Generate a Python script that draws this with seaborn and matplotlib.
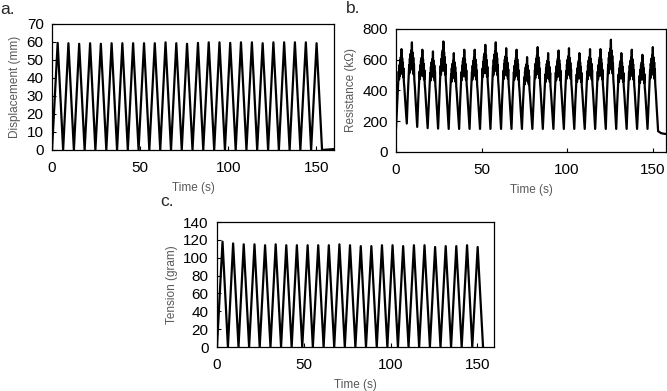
import numpy as np
import pandas as pd
import matplotlib
matplotlib.use('Agg')
import matplotlib.pyplot as plt
import seaborn as sns

# times of peaks and troughs (s)
peak_t = [3.2, 9.3, 15.4, 21.6, 27.7, 33.8, 39.9, 46.0, 52.2, 58.3, 64.4, 70.5, 76.6,
          82.8, 88.9, 95.0, 101.1, 107.2, 113.4, 119.5, 125.6, 131.7, 137.8, 144.0, 150.1]
trough_t = [6.3, 12.4, 18.5, 24.6, 30.8, 36.9, 43.0, 49.1, 55.2, 61.4, 67.5, 73.6, 79.7,
            85.8, 92.0, 98.1, 104.2, 110.3, 116.4, 122.6, 128.7, 134.8, 140.9, 147.0, 153.2]

# a. displacement peaks (mm)
disp_peak = [59.5, 59.3, 59.0, 59.3, 59.0, 59.3, 59.3, 59.3, 59.3, 59.3, 59.8, 59.3, 59.0,
             59.5, 59.8, 59.8, 59.5, 59.8, 59.8, 59.3, 59.8, 59.8, 59.8, 59.8, 59.3]
disp_tail_t = [160]
disp_tail = [0.5]

# b. resistance (kOhm)
res_start = 150
res_peak = [669, 713, 665, 654, 719, 643, 665, 665, 697, 713, 675, 665, 617,
            682, 643, 660, 675, 643, 669, 669, 730, 643, 665, 632, 682]
res_trough = [185, 163, 155, 152, 150, 150, 150, 150, 150, 150, 150, 150, 150,
              150, 150, 150, 150, 150, 150, 150, 150, 150, 150, 150, 135]
# jagged shape around each peak: offset from peak (s), level between trough and peak
res_off = [-2.4, -1.9, -1.6, -1.4, -1.2, -1.0, -0.8, -0.6, -0.4, -0.2, 0.0,
           0.2, 0.4, 0.6, 0.8, 1.0, 1.2, 1.4, 1.7, 2.2]
res_lev = [0.35, 0.58, 0.72, 0.62, 0.80, 0.66, 0.86, 0.70, 0.90, 0.74, 1.0,
           0.72, 0.88, 0.66, 0.82, 0.62, 0.74, 0.56, 0.48, 0.30]
res_tail_t = [155, 157, 160]
res_tail = [122, 118, 115]

# c. tension (gram)
ten_peak = [118, 116, 115, 115, 114, 115, 114, 114, 114, 114, 114, 115, 114,
            113, 113, 114, 114, 113, 114, 114, 112, 113, 113, 114, 112]

# build series
a_t, a_v = [0], [0]
for tp, pk, tt in zip(peak_t, disp_peak, trough_t):
    a_t += [tp, tt]
    a_v += [pk, 0]
a_t += disp_tail_t
a_v += disp_tail
df_a = pd.DataFrame({'t': a_t, 'v': a_v})

b_t, b_v = [0], [res_start]
for i, (tp, pk) in enumerate(zip(peak_t, res_peak)):
    lo_l = res_start if i == 0 else res_trough[i - 1]
    lo_r = res_trough[i]
    for off, lev in zip(res_off, res_lev):
        lo = lo_l if off < 0 else lo_r
        b_t.append(tp + off)
        b_v.append(lo + lev * (pk - lo))
    b_t.append(trough_t[i])
    b_v.append(lo_r)
b_t += res_tail_t
b_v += res_tail
df_b = pd.DataFrame({'t': b_t, 'v': b_v})

c_t, c_v = [0], [0]
for tp, pk, tt in zip(peak_t, ten_peak, trough_t):
    c_t += [tp, tt]
    c_v += [pk, 0]
df_c = pd.DataFrame({'t': c_t, 'v': c_v})

sns.set_style('ticks')
plt.rcParams['font.family'] = ['Liberation Sans', 'DejaVu Sans']

fig = plt.figure(figsize=(6.67, 3.91), dpi=100)
ax_a = fig.add_axes([0.078, 0.6164, 0.4228, 0.3223])
ax_b = fig.add_axes([0.5937, 0.6113, 0.4048, 0.3146])
ax_c = fig.add_axes([0.3253, 0.1125, 0.4153, 0.3197])

panels = [
    (ax_a, df_a, 'Displacement (mm)', (0, 70), np.arange(0, 71, 10), 160),
    (ax_b, df_b, 'Resistance (k\u03a9)', (0, 800), np.arange(0, 801, 200), 157.8),
    (ax_c, df_c, 'Tension (gram)', (0, 140), np.arange(0, 141, 20), 159.5),
]
for ax, df, ylab, ylim, yt, xmax in panels:
    sns.lineplot(data=df, x='t', y='v', ax=ax, color='black', linewidth=1.6,
                 estimator=None, sort=False)
    ax.set_xlim(0, xmax)
    ax.set_ylim(*ylim)
    ax.set_yticks(yt)
    ax.set_xticks([0, 50, 100, 150])
    ax.set_xlabel('Time (s)', fontsize=8.5, color='#595959', labelpad=5)
    ax.set_ylabel(ylab, fontsize=8.5, color='#595959', labelpad=4)
    ax.tick_params(direction='in', length=3, width=0.8, labelsize=11,
                   colors='black')
    ax.tick_params(axis='x', pad=8)
    ax.tick_params(axis='y', pad=6)
    for s in ax.spines.values():
        s.set_visible(True)
        s.set_color('black')
        s.set_linewidth(0.9)

fig.text(0.0, 0.995, 'a.', fontsize=12.5, va='top', ha='left')
fig.text(0.519, 0.998, 'b.', fontsize=12.5, va='top', ha='left')
fig.text(0.240, 0.505, 'c.', fontsize=12.5, va='top', ha='left')

fig.savefig('out.png', dpi=100)
